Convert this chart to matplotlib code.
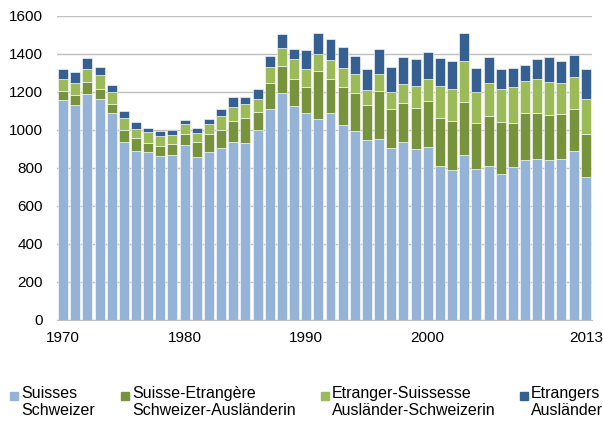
import matplotlib
matplotlib.use("Agg")
import matplotlib.pyplot as plt
from matplotlib.patches import Rectangle
import numpy as np

plt.rcParams['font.family'] = ['Liberation Sans', 'DejaVu Sans']

## data
years = list(range(1970, 2014))
suisses = [1158, 1131, 1189, 1163, 1089, 935, 888, 886, 865, 866,
           919, 858, 882, 907, 935, 930, 998, 1110, 1193, 1126,
           1091, 1059, 1087, 1026, 995, 945, 952, 905, 937, 898,
           910, 812, 789, 868, 795, 812, 768, 805, 842, 847,
           842, 847, 889, 752]
suisse_etrangere = [49, 55, 65, 53, 49, 65, 71, 47, 52, 62,
                    60, 79, 98, 95, 114, 135, 98, 139, 144, 144,
                    137, 253, 183, 198, 201, 185, 255, 205, 207, 219,
                    244, 251, 256, 281, 243, 263, 272, 232, 245, 244,
                    238, 239, 223, 228]
etranger_suissesse = [61, 63, 69, 75, 60, 65, 46, 55, 51, 45,
                      54, 49, 50, 73, 72, 70, 69, 84, 96, 102,
                      93, 88, 98, 102, 98, 79, 86, 92, 96, 114,
                      116, 168, 172, 214, 164, 172, 176, 187, 171, 175,
                      172, 163, 165, 183]
etrangers = [53, 56, 54, 40, 37, 35, 37, 22, 28, 25,
             21, 24, 28, 35, 51, 40, 49, 54, 70, 56,
             102, 108, 112, 109, 97, 112, 131, 131, 144, 144,
             138, 149, 146, 147, 124, 137, 103, 100, 86, 107,
             132, 114, 117, 158]

labels = ["Suisses\nSchweizer", "Suisse-Etrangère\nSchweizer-Ausländerin",
          "Etranger-Suissesse\nAusländer-Schweizerin", "Etrangers\nAusländer"]
colors = ["#95B3D7", "#77933C", "#9BBB59", "#376092"]
tick_years = [1970, 1980, 1990, 2000, 2013]

fig = plt.figure(figsize=(6.03, 4.21), dpi=100)
ax = fig.add_axes([0.0945, 0.240, 0.887, 0.722])

x = np.arange(len(years))
bottom = np.zeros(len(years))
for vals, c in zip([suisses, suisse_etrangere, etranger_suissesse, etrangers], colors):
    ax.bar(x, vals, width=0.82, bottom=bottom, color=c, edgecolor="white", linewidth=0.4, zorder=3)
    bottom += np.array(vals)

ax.set_xlim(-0.5, len(years) - 0.5)
ax.set_ylim(0, 1600)
ax.set_yticks(range(0, 1601, 200))
ax.set_xticks([years.index(y) for y in tick_years])
ax.set_xticklabels([str(y) for y in tick_years])
ax.yaxis.grid(True, color="#C0C0C0", linewidth=1, zorder=0)
ax.tick_params(axis="both", length=0, labelsize=11, colors="black")
ax.tick_params(axis="y", pad=10)
ax.tick_params(axis="x", pad=8)
for s in ["top", "right", "left"]:
    ax.spines[s].set_visible(False)
ax.spines["bottom"].set_color("#C0C0C0")
ax.spines["bottom"].set_zorder(4)

## legend drawn by hand to match the spacing
W, H = 603.0, 421.0
leg_x = [10, 121, 321, 520]
for lx, lab, c in zip(leg_x, labels, colors):
    fig.patches.append(Rectangle((lx / W, 1 - 400 / H), 8 / W, 8 / H,
                                 transform=fig.transFigure, color=c))
    fig.text((lx + 11) / W, 1 - 386 / H, lab, fontsize=11.5, va="top", ha="left",
             linespacing=1.2)

fig.savefig("out.png", dpi=100)
